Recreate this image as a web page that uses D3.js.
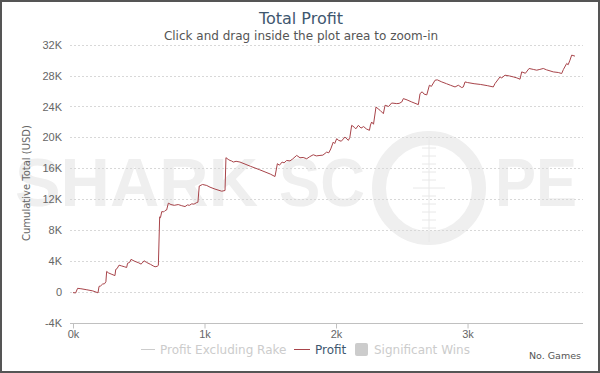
<!DOCTYPE html>
<html>
<head>
<meta charset="utf-8">
<script src="https://cdn.jsdelivr.net/npm/d3@7"></script>
<style>
  body { margin: 0; background: #fff; }
  svg { display: block; font-family: "DejaVu Sans", sans-serif; }
</style>
</head>
<body>
<script>
// games played and cumulative profit (USD)
const games = [0, 20, 35, 60, 100, 150, 190, 198, 210, 225, 240, 250, 256, 270, 290, 319, 325, 335, 350, 370,
  390, 408, 415, 430, 441, 470, 500, 517, 525, 540, 560, 590, 610, 624, 640, 649, 659, 665, 675, 690,
  700, 712, 725, 745, 770, 800, 827, 852, 870, 885, 903, 920, 941, 950, 960, 985, 1017, 1042, 1080, 1131,
  1156, 1163, 1180, 1194, 1205, 1219, 1240, 1270, 1350, 1420, 1500, 1536, 1554, 1570, 1590, 1605, 1625, 1650, 1670, 1701,
  1726, 1750, 1777, 1800, 1827, 1850, 1878, 1900, 1929, 1945, 1960, 1979, 1990, 2005, 2020, 2040, 2068, 2094, 2105, 2119,
  2140, 2150, 2170, 2190, 2210, 2230, 2254, 2262, 2271, 2285, 2304, 2320, 2335, 2360, 2373, 2400, 2423, 2462, 2480, 2500,
  2512, 2540, 2576, 2626, 2639, 2655, 2670, 2690, 2710, 2725, 2753, 2770, 2804, 2840, 2870, 2905, 2930, 2956, 2968, 2981,
  3000, 3050, 3100, 3150, 3196, 3209, 3247, 3260, 3285, 3320, 3348, 3375, 3399, 3412, 3440, 3468, 3500, 3526, 3550, 3576,
  3600, 3652, 3690, 3716, 3729, 3754, 3765, 3779, 3792, 3817];
const profit = [-100, -150, 450, 400, 280, 120, -130, 700, 760, 1000, 1050, 1300, 2640, 2450, 2300, 2100, 2900, 3000, 3450, 3350,
  3250, 3150, 3700, 3800, 4200, 3950, 3750, 3590, 3700, 4020, 3800, 3550, 3350, 3240, 3300, 3420, 9700, 9600, 10390, 10350,
  10520, 10600, 11480, 11300, 11200, 11300, 11150, 11040, 11250, 11200, 11390, 11350, 11560, 11600, 13700, 13900, 13770, 13550, 13300, 13030,
  13120, 17370, 17150, 17010, 16950, 16800, 16900, 16800, 16250, 15800, 15250, 14930, 16590, 16400, 16800, 16700, 17010, 16950, 17200, 17660,
  17360, 17400, 17230, 17500, 17750, 17600, 17660, 17700, 18090, 18000, 18500, 19390, 19200, 19830, 19610, 19500, 20040, 19610, 20000, 21560,
  21300, 21100, 21560, 21200, 21400, 21100, 20910, 21600, 21990, 21700, 23930, 23700, 23500, 23070, 24160, 24000, 24450, 24370, 24400, 24580,
  25020, 24850, 24580, 24240, 25670, 25900, 25600, 25500, 26750, 26600, 27400, 27450, 27180, 26950, 26750, 26530, 26750, 26450, 26530, 27180,
  27100, 26950, 26850, 26700, 26530, 26970, 27830, 27700, 28050, 27950, 27830, 27700, 27530, 28480, 28300, 28920, 28800, 28700, 28800, 28920,
  28750, 28480, 28400, 28270, 28790, 29570, 29400, 30000, 30650, 30520];

const yTicks = [-4000, 0, 4000, 8000, 12000, 16000, 20000, 24000, 28000, 32000];
const yTickLabels = ["-4K", "0", "4K", "8K", "12K", "16K", "20K", "24K", "28K", "32K"];
const xTicks = [0, 1000, 2000, 3000];
const xTickLabels = ["0k", "1k", "2k", "3k"];
const legendNames = ["Profit Excluding Rake", "Profit", "Significant Wins"];

const W = 600, H = 373;
const plot = { left: 73, right: 583, top: 44.7, bottom: 322.7 };

const svg = d3.select("body").append("svg")
  .attr("width", W)
  .attr("height", H);

// frame round the whole chart
svg.append("rect")
  .attr("x", 1).attr("y", 1)
  .attr("width", W - 2).attr("height", H - 2)
  .attr("fill", "#fff")
  .attr("stroke", "#555")
  .attr("stroke-width", 2);

// watermark
const wm = svg.append("g").attr("fill", "#efefef");
wm.append("text").attr("x", 15).attr("y", 206)
  .attr("font-family", "Liberation Sans, Arial, sans-serif")
  .attr("font-weight", "bold").attr("font-size", 68)
  .attr("textLength", 243).attr("lengthAdjust", "spacingAndGlyphs")
  .text("SHARK");
wm.append("text").attr("x", 279).attr("y", 206)
  .attr("font-family", "Liberation Sans, Arial, sans-serif")
  .attr("font-weight", "bold").attr("font-size", 68)
  .attr("textLength", 86).attr("lengthAdjust", "spacingAndGlyphs")
  .text("SC");
wm.append("text").attr("x", 495).attr("y", 206)
  .attr("font-family", "Liberation Sans, Arial, sans-serif")
  .attr("font-weight", "bold").attr("font-size", 68)
  .attr("textLength", 82).attr("lengthAdjust", "spacingAndGlyphs")
  .text("PE");
wm.append("circle").attr("cx", 429).attr("cy", 188).attr("r", 50)
  .attr("fill", "none").attr("stroke", "#efefef").attr("stroke-width", 14);
wm.append("line").attr("x1", 429).attr("x2", 429).attr("y1", 136).attr("y2", 242)
  .attr("stroke", "#e8e8e8").attr("stroke-width", 1);
d3.range(-5, 6).forEach(i => {
  const w = i === 0 ? 16 : 7;
  wm.append("line").attr("x1", 429 - w).attr("x2", 429 + w)
    .attr("y1", 188 + i * 8).attr("y2", 188 + i * 8)
    .attr("stroke", "#e8e8e8").attr("stroke-width", 1);
});

// scales
const x = d3.scaleLinear().domain([0, 3878]).range([plot.left, plot.right]);
const y = d3.scaleLinear().domain([-4000, 32000]).range([plot.bottom, plot.top]);

// grid lines
svg.append("g")
  .selectAll("line")
  .data(yTicks.filter(d => d !== -4000))
  .join("line")
  .attr("x1", plot.left - 3).attr("x2", plot.right)
  .attr("y1", d => Math.round(y(d)) + 0.5).attr("y2", d => Math.round(y(d)) + 0.5)
  .attr("stroke", "#d8d8d8")
  .attr("stroke-dasharray", "2,2");

// y axis labels
const yAxis = svg.append("g")
  .attr("transform", "translate(" + (plot.left - 11) + ",0)")
  .call(d3.axisLeft(y).tickValues(yTicks).tickSize(0).tickFormat((d, i) => yTickLabels[i]));
yAxis.select(".domain").remove();
yAxis.selectAll("text").attr("fill", "#666").attr("font-size", 11).attr("dx", 0).attr("x", 0);

// x axis
const xAxis = svg.append("g")
  .attr("transform", "translate(0," + (Math.round(plot.bottom) + 0.5) + ")")
  .call(d3.axisBottom(x).tickValues(xTicks).tickSize(5).tickFormat((d, i) => xTickLabels[i]));
xAxis.select(".domain").attr("stroke", "#c0c0c0").attr("d", "M" + (plot.left - 3) + ",0H" + plot.right);
xAxis.selectAll(".tick line").attr("stroke", "#c0c0c0");
xAxis.selectAll("text").attr("fill", "#666").attr("font-size", 11).attr("y", 7);

// profit line
const pts = games.map((g, i) => ({ g: g, v: profit[i] }));
const line = d3.line().x(d => x(d.g)).y(d => y(d.v));
svg.append("path")
  .datum(pts)
  .attr("d", line)
  .attr("fill", "none")
  .attr("stroke", "#a8444a")
  .attr("stroke-width", 1)
  .attr("stroke-linejoin", "round");

// titles
svg.append("text").attr("x", 301).attr("y", 24)
  .attr("text-anchor", "middle").attr("font-size", 16).attr("fill", "#3e576f")
  .text("Total Profit");
svg.append("text").attr("x", 301).attr("y", 40)
  .attr("text-anchor", "middle").attr("font-size", 12).attr("fill", "#555")
  .text("Click and drag inside the plot area to zoom-in");

svg.append("text")
  .attr("transform", "translate(30," + 183 + ") rotate(-90)")
  .attr("text-anchor", "middle").attr("font-size", 10).attr("fill", "#666")
  .text("Cumulative Total (USD)");

svg.append("text").attr("x", 581).attr("y", 359)
  .attr("text-anchor", "end").attr("font-size", 9.5).attr("fill", "#555")
  .text("No. Games");

// legend
const lg = svg.append("g").attr("font-size", 12);
lg.append("line").attr("x1", 141).attr("x2", 155).attr("y1", 349.5).attr("y2", 349.5)
  .attr("stroke", "#ccc");
lg.append("text").attr("x", 160).attr("y", 353.5).attr("fill", "#ccc").text(legendNames[0]);
lg.append("line").attr("x1", 294).attr("x2", 310).attr("y1", 349.5).attr("y2", 349.5)
  .attr("stroke", "#a8444a");
lg.append("text").attr("x", 315).attr("y", 353.5).attr("fill", "#3e576f").text(legendNames[1]);
lg.append("rect").attr("x", 355).attr("y", 343).attr("width", 13).attr("height", 13).attr("rx", 2)
  .attr("fill", "#ccc");
lg.append("text").attr("x", 374).attr("y", 353.5).attr("fill", "#ccc").text(legendNames[2]);
</script>
</body>
</html>
